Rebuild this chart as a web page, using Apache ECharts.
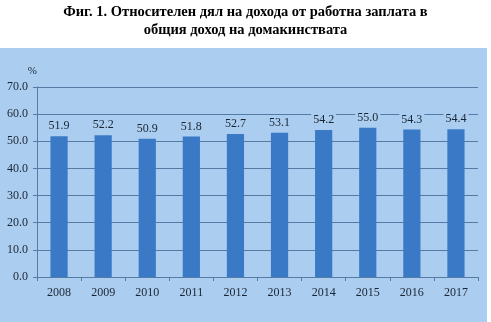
<!DOCTYPE html>
<html><head><meta charset="utf-8">
<script src="https://cdn.jsdelivr.net/npm/echarts@6/dist/echarts.min.js"></script>
<style>html,body{margin:0;padding:0;background:#fff}#c{width:491px;height:322px}</style>
</head><body><div id="c"></div>
<script>
const titleLines = ['Фиг. 1. Относителен дял на дохода от работна заплата в', 'общия доход на домакинствата'];
const years = ['2008','2009','2010','2011','2012','2013','2014','2015','2016','2017'];
const shares = [51.9, 52.2, 50.9, 51.8, 52.7, 53.1, 54.2, 55.0, 54.3, 54.4];
const unit = '%';

const PANEL = '#aacdf0';
const GRIDC = '#557aa3';
const TXT = '#1a2533';
const FONT = '"Liberation Serif","Times New Roman",serif';

const chart = echarts.init(document.getElementById('c'), null, {renderer:'canvas'});
chart.setOption({
  animation: false,
  backgroundColor: '#ffffff',
  graphic: [
    {type:'rect', z:-10, shape:{x:0, y:48, width:487, height:274}, style:{fill:PANEL}},
    {type:'text', left:'center', top:3, style:{text:titleLines.join('\n'), font:'bold 14.5px ' + FONT, fill:'#000', textAlign:'center', lineHeight:18}}
  ],
  grid: {left:37, right:13, top:87, bottom:45},
  xAxis: {
    type:'category', data: years,
    axisLine:{lineStyle:{color:GRIDC, width:1}},
    axisTick:{show:true, inside:false, length:4, lineStyle:{color:GRIDC}},
    axisLabel:{color:TXT, fontFamily:FONT, fontSize:12, margin:10}
  },
  yAxis: {
    type:'value', min:0, max:70, interval:10,
    name: unit, nameLocation:'end', nameGap:10,
    nameTextStyle:{color:TXT, fontFamily:FONT, fontSize:11, align:'right', padding:[0,0,0,0]},
    axisLine:{show:true, lineStyle:{color:GRIDC}},
    axisTick:{show:true, length:4, lineStyle:{color:GRIDC}},
    splitLine:{lineStyle:{color:GRIDC, width:1}},
    axisLabel:{color:TXT, fontFamily:FONT, fontSize:12, margin:9, formatter:v=>v.toFixed(1)}
  },
  series: [{
    type:'bar', data: shares, barWidth:'39%',
    itemStyle:{color:'#3a79c6'},
    label:{show:true, position:'top', distance:4, color:TXT, fontFamily:FONT, fontSize:12,
      backgroundColor:PANEL, padding:[0,2], formatter:p=>p.value.toFixed(1)}
  }]
});
</script></body></html>
